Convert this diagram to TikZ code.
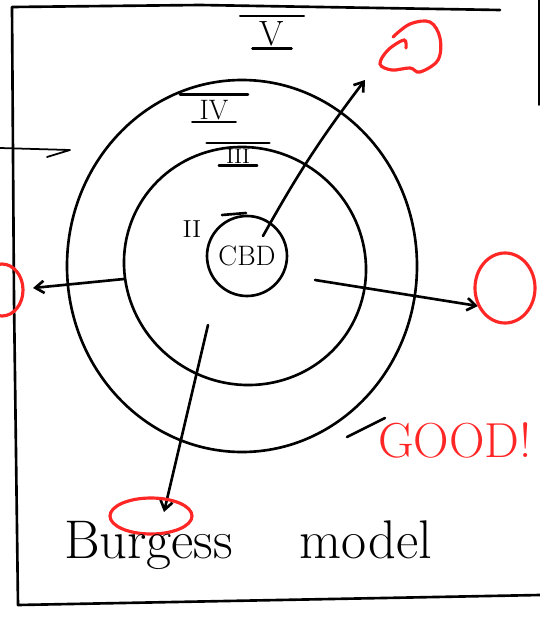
\documentclass[tikz,border=0pt]{standalone}
\usetikzlibrary{arrows.meta}
\tikzset{
  strand/.style={line width=1.5pt, line cap=round, line join=round},
  pen/.style={strand, -{Straight Barb[length=5pt,width=7pt]}},
  redmark/.style={line width=1.8pt, color=red!85!white, line cap=round},
  numeral/.style={inner sep=1pt, font=\fontsize{#1}{#1}\selectfont}
}

\begin{document}
\begin{tikzpicture}[x=0.02cm, y=-0.02cm]
  \useasboundingbox (0,0) rectangle (540,622);
  \clip (0,0) rectangle (540,622);

  % frame of the page
  \draw[strand] (500,10) -- (200,5) -- (12,7) -- (14,300) -- (18,605) -- (540,595);
  \draw[strand, line width=1pt] (539,0) -- (539,105);
  \draw[strand, line width=1pt] (0,148) -- (70,150) -- (47,157);

  % zones
  \draw[strand] (242,266) ellipse (175 and 186);
  \draw[strand] (347,437) -- (385,418);
  \draw[strand, rotate around={-30:(245,266)}] (245,266) ellipse (122 and 118);
  \node[strand, draw, circle, minimum size=80*0.02cm, inner sep=0pt,
        font=\fontsize{16}{16}\selectfont] (cbd) at (247,256) {CBD};
  \draw[strand] (222,215) -- (246,213);

  % zone numbers
  \foreach \n/\t/\p/\s in {five/V/{(272,34)}/20, four/IV/{(214,110)}/16, three/III/{(238,156)}/12} {
    \node[numeral=\s] (\n) at \p {\t};
    \draw[strand] ([xshift=-10pt,yshift=2pt]\n.north west) -- ([xshift=10pt,yshift=2pt]\n.north east);
    \draw[strand] ([xshift=-3pt]\n.south west) -- ([xshift=3pt]\n.south east);
  }
  \node[numeral=14] (two) at (192,229) {II};

  % growth
  \coordinate (upa) at (263,236);
  \coordinate (upb) at (365,80);
  \coordinate (lefta) at (124,279);
  \coordinate (leftb) at (33,288);
  \coordinate (righta) at (315,280);
  \coordinate (rightb) at (478,306);
  \coordinate (downa) at (208,325);
  \coordinate (downb) at (164,512);
  \draw[pen] (upa) to[bend left=4] (upb);
  \draw[pen] (lefta) -- (leftb);
  \draw[pen] (righta) -- (rightb);
  \draw[pen] (downa) -- (downb);

  % red marks
  \draw[redmark] plot[smooth, tension=0.6] coordinates {
    (406,48) (404,40) (388,50) (380,64) (392,70) (410,68) (420,72)
    (438,60) (440,38) (430,22) (410,24) (393,37)};
  \draw[redmark] (2,290) ellipse (21 and 26);
  \draw[redmark] (505,288) ellipse (30 and 35);
  \draw[redmark] (151,516) ellipse (41 and 18);
  \node[text=red!85!white, font=\fontsize{28}{28}\selectfont] (good) at (455,440) {GOOD!};

  % title
  \node[font=\fontsize{31}{31}\selectfont] (title) at (248,545) {Burgess\hspace{38pt}model};
\end{tikzpicture}
\end{document}
